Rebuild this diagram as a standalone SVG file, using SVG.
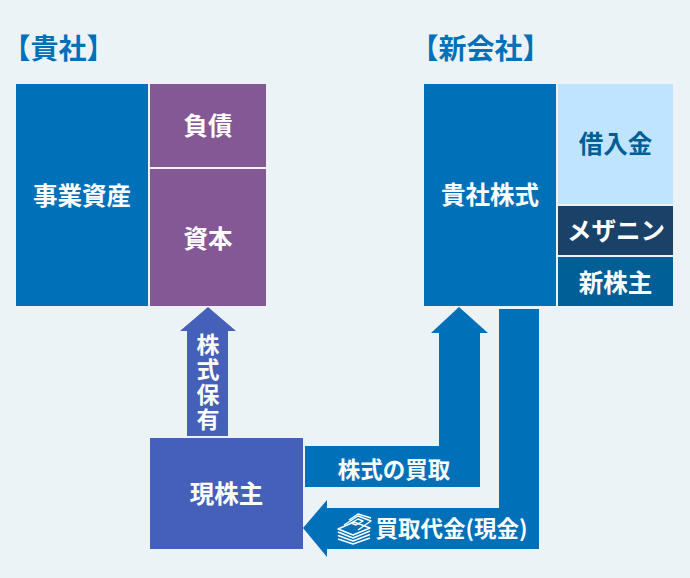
<svg xmlns="http://www.w3.org/2000/svg" width="690" height="578" viewBox="0 0 690 578">
<style>
text{font-family:"Noto Sans CJK JP","Noto Sans",sans-serif;font-weight:700;font-size:24.500px;fill:#fff;text-anchor:middle;dominant-baseline:central}
.t{font-size:28px;fill:#0071b9;text-anchor:start}
.blue{fill:#0071b9}.pur{fill:#845895}.ind{fill:#4560b8}
.ic{fill:none;stroke:#fff;stroke-width:1.400;stroke-linejoin:round}
</style>
<rect width="690" height="578" fill="#ecf3f7"/>
<g id="connectors">
<path id="arrow-hold" class="ind" d="M208 307L236 331H228V436H187V331H180Z"/>
<path id="arrow-buy" class="blue" d="M459 307L488 333H480V487H305V446H439V333H431Z"/>
<path id="arrow-pay" class="blue" d="M499 309H539V549H327V557L303 528L327 500V508H499Z"/>
</g>
<g id="title-a"><text class="t" x="2.500" y="47">【貴社】</text></g>
<g id="title-b"><text class="t" x="410.500" y="47">【新会社】</text></g>
<g id="n-assets"><rect class="blue" x="16" y="84" width="132" height="222"/><text x="82" y="194">事業資産</text></g>
<g id="n-debt"><rect class="pur" x="150" y="84" width="116" height="83"/><text x="208" y="124">負債</text></g>
<g id="n-capital"><rect class="pur" x="150" y="169" width="116" height="137"/><text x="208" y="237">資本</text></g>
<g id="n-shares"><rect class="blue" x="424" y="84" width="132" height="222"/><text x="490" y="193">貴社株式</text></g>
<g id="n-loan"><rect fill="#bfe4ff" x="558" y="84" width="115" height="120"/><text x="615.500" y="142" style="fill:#005f96">借入金</text></g>
<g id="n-mezz"><rect fill="#1a4269" x="558" y="206" width="115" height="49"/><text x="616" y="229">メザニン</text></g>
<g id="n-new"><rect fill="#005f96" x="558" y="257" width="115" height="49"/><text x="615.500" y="281">新株主</text></g>
<g id="n-holder"><rect class="ind" x="150" y="438" width="153" height="111"/><text x="226.500" y="492">現株主</text></g>
<g id="labels">
<text x="208" y="383" style="font-size:23px;writing-mode:vertical-rl;letter-spacing:2px">株式保有</text>
<text x="394" y="468" style="font-size:22.500px">株式の買取</text>
<text x="451.500" y="527" style="font-size:22.500px">買取代金(現金)</text>
</g>
<g id="cash-icon" class="ic">
<path d="M338 529L354 522L370 528L353 535Z"/>
<path d="M338 532L353 538L370 531M338 535.500L353 541L370 534.500M338 539L353 544L370 538"/>
<path d="M344 525L358 516L371 521L358 530M349 520L358 514L371 518"/>
<path d="M351 523L358 519L363 521L356 525Z"/>
</g>
</svg>
